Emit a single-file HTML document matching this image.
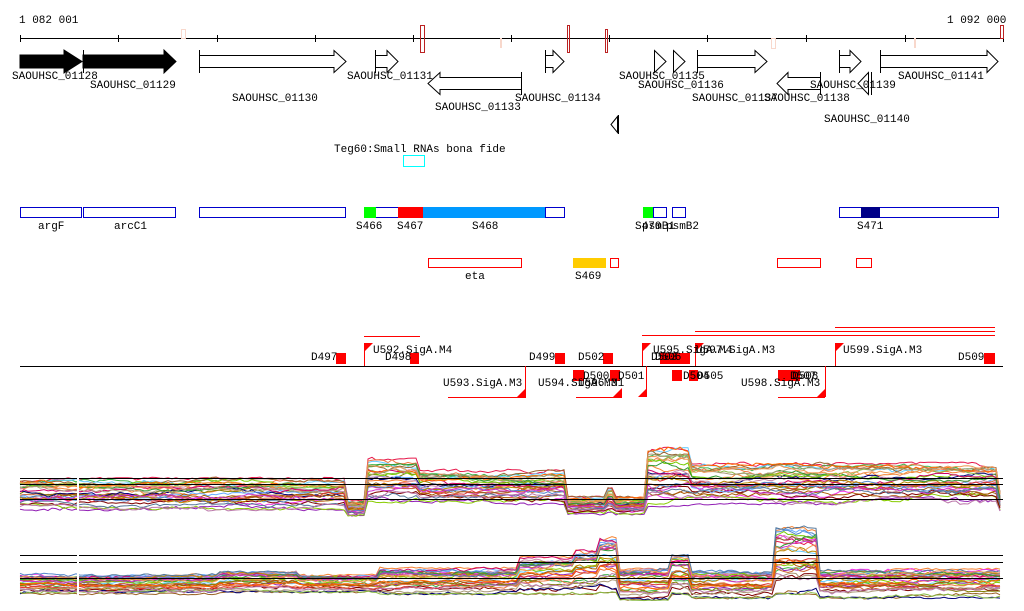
<!DOCTYPE html>
<html><head><meta charset="utf-8"><style>
html,body{margin:0;padding:0;background:#fff;width:1024px;height:611px;overflow:hidden}
svg text{font-family:"Liberation Mono","DejaVu Sans Mono",monospace;font-size:11px;fill:#000}
</style></head><body>
<svg id="s" width="1024" height="611" viewBox="0 0 1024 611" xmlns="http://www.w3.org/2000/svg">
<text x="19" y="23">1 082 001</text>
<text x="947" y="23">1 092 000</text>
<line x1="20" y1="38.5" x2="1003" y2="38.5" stroke="#000"/>
<g stroke="#000">
<line x1="20.5" y1="35" x2="20.5" y2="42"/><line x1="118.5" y1="35" x2="118.5" y2="42"/><line x1="217.5" y1="35" x2="217.5" y2="42"/><line x1="315.5" y1="35" x2="315.5" y2="42"/><line x1="413.5" y1="35" x2="413.5" y2="42"/><line x1="511.5" y1="35" x2="511.5" y2="42"/><line x1="609.5" y1="35" x2="609.5" y2="42"/><line x1="707.5" y1="35" x2="707.5" y2="42"/><line x1="806.5" y1="35" x2="806.5" y2="42"/><line x1="905.5" y1="35" x2="905.5" y2="42"/><line x1="1003.5" y1="35" x2="1003.5" y2="42"/>
</g>
<g fill="none">
<rect x="181.5" y="29.5" width="4" height="9" stroke="#f8d8cc"/>
<rect x="420.5" y="25.5" width="4" height="27" stroke="#b22"/>
<rect x="500" y="38" width="2" height="10" fill="#f8d8cc" stroke="none"/>
<rect x="567.5" y="25.5" width="2" height="27" stroke="#b22"/>
<rect x="605.5" y="29.5" width="2" height="23" stroke="#b22"/>
<rect x="771.5" y="38.5" width="4" height="10" stroke="#f8d8cc"/>
<rect x="914" y="38" width="2" height="10" fill="#f8d8cc" stroke="none"/>
<rect x="1000.5" y="25.5" width="3" height="13" stroke="#b22"/>
</g>
<g stroke="#000" fill="#fff">
<polygon points="20,55 64,55 64,50 82,61.5 64,73 64,68 20,68" fill="#000"/>
<polygon points="83,55 164,55 164,50 176,61.5 164,73 164,68 83,68" fill="#000"/>
<line x1="83.5" y1="50" x2="83.5" y2="73"/>
<polygon points="199.5,55.5 334,55.5 334,50.5 346,61.5 334,72.5 334,67.5 199.5,67.5"/><line x1="199.5" y1="50" x2="199.5" y2="73"/>
<polygon points="375.5,55.5 387,55.5 387,50.5 398,61.5 387,72.5 387,67.5 375.5,67.5"/><line x1="375.5" y1="50" x2="375.5" y2="73"/>
<polygon points="545.5,55.5 553,55.5 553,50.5 564,61.5 553,72.5 553,67.5 545.5,67.5"/><line x1="545.5" y1="50" x2="545.5" y2="73"/>
<polygon points="654.5,50.5 666,61.5 654.5,72.5"/>
<polygon points="673.5,50.5 685,61.5 673.5,72.5"/>
<polygon points="697.5,55.5 755,55.5 755,50.5 767,61.5 755,72.5 755,67.5 697.5,67.5"/><line x1="697.5" y1="50" x2="697.5" y2="73"/>
<polygon points="839.5,55.5 850,55.5 850,50.5 861,61.5 850,72.5 850,67.5 839.5,67.5"/><line x1="839.5" y1="50" x2="839.5" y2="73"/>
<polygon points="880.5,55.5 987,55.5 987,50.5 998,61.5 987,72.5 987,67.5 880.5,67.5"/><line x1="880.5" y1="50" x2="880.5" y2="73"/>
<polygon points="521.5,77.5 440,77.5 440,72.5 428,83.5 440,94.5 440,89.5 521.5,89.5"/><line x1="521.5" y1="72" x2="521.5" y2="95"/>
<polygon points="820.5,77.5 788,77.5 788,72.5 777,83.5 788,94.5 788,89.5 820.5,89.5"/><line x1="820.5" y1="72" x2="820.5" y2="95"/>
<polygon points="868.5,72.5 858,83.5 868.5,94.5"/><line x1="871.5" y1="72" x2="871.5" y2="95"/>
<polygon points="617.5,116.5 611,124.5 617.5,132.5"/><line x1="618.5" y1="115" x2="618.5" y2="134"/>
</g>
<text x="12" y="79">SAOUHSC_01128</text>
<text x="90" y="88">SAOUHSC_01129</text>
<text x="232" y="101">SAOUHSC_01130</text>
<text x="347" y="79">SAOUHSC_01131</text>
<text x="435" y="110">SAOUHSC_01133</text>
<text x="515" y="101">SAOUHSC_01134</text>
<text x="619" y="79">SAOUHSC_01135</text>
<text x="638" y="88">SAOUHSC_01136</text>
<text x="692" y="101">SAOUHSC_01137</text>
<text x="764" y="101">SAOUHSC_01138</text>
<text x="810" y="88">SAOUHSC_01139</text>
<text x="824" y="122">SAOUHSC_01140</text>
<text x="898" y="79">SAOUHSC_01141</text>
<text x="334" y="152">Teg60:Small RNAs bona fide</text>
<rect x="403.5" y="155.5" width="21" height="11" fill="none" stroke="#0ff"/>
<g stroke="#00c" fill="#fff">
<rect x="20.5" y="207.5" width="61" height="10"/>
<rect x="83.5" y="207.5" width="92" height="10"/>
<rect x="199.5" y="207.5" width="146" height="10"/>
<rect x="375.5" y="207.5" width="23" height="10"/>
<rect x="545.5" y="207.5" width="19" height="10"/>
<rect x="653.5" y="207.5" width="13" height="10"/>
<rect x="672.5" y="207.5" width="13" height="10"/>
<rect x="839.5" y="207.5" width="159" height="10"/>
</g>
<rect x="364" y="207" width="12" height="11" fill="#0f0"/>
<rect x="398" y="207" width="25" height="11" fill="#f00"/>
<rect x="423" y="207" width="122" height="11" fill="#09f"/>
<rect x="643" y="207" width="10" height="11" fill="#0f0"/>
<rect x="861" y="207" width="19" height="11" fill="#008"/>
<text x="38" y="229">argF</text>
<text x="114" y="229">arcC1</text>
<text x="356" y="229">S466</text>
<text x="397" y="229">S467</text>
<text x="472" y="229">S468</text>
<text x="635" y="229">S470</text>
<text x="642" y="229">psmB1</text>
<text x="666" y="229">psmB2</text>
<text x="857" y="229">S471</text>
<g stroke="#f00" fill="#fff">
<rect x="428.5" y="258.5" width="93" height="9"/>
<rect x="610.5" y="258.5" width="8" height="9"/>
<rect x="777.5" y="258.5" width="43" height="9"/>
<rect x="856.5" y="258.5" width="15" height="9"/>
</g>
<rect x="573" y="258" width="33" height="10" fill="#fc0"/>
<text x="465" y="279">eta</text>
<text x="575" y="279">S469</text>
<line x1="20" y1="366.5" x2="1003" y2="366.5" stroke="#000"/>
<g fill="#f00">
<rect x="364" y="336" width="56" height="1"/>
<rect x="642" y="335" width="353" height="1"/>
<rect x="695" y="331" width="300" height="1"/>
<rect x="835" y="327" width="160" height="1"/>
<rect x="448" y="397" width="78" height="1"/>
<rect x="576" y="397" width="46" height="1"/>
<rect x="778" y="397" width="47" height="1"/>
<rect x="364" y="343" width="1" height="23"/>
<rect x="642" y="343" width="1" height="23"/>
<rect x="695" y="343" width="1" height="23"/>
<rect x="835" y="343" width="1" height="23"/>
<rect x="525" y="366" width="1" height="30"/>
<rect x="646" y="366" width="1" height="30"/>
<rect x="825" y="366" width="1" height="30"/>
<polygon points="364,343 373,343 364,352"/>
<polygon points="642,343 651,343 642,352"/>
<polygon points="695,343 704,343 695,352"/>
<polygon points="835,343 844,343 835,352"/>
<polygon points="526,388 526,397 517,397"/>
<polygon points="622,388 622,397 613,397"/>
<polygon points="647,388 647,397 638,397"/>
<polygon points="826,388 826,397 817,397"/>
<rect x="336" y="353" width="10" height="11"/>
<rect x="410" y="353" width="9" height="11"/>
<rect x="555" y="353" width="10" height="11"/>
<rect x="603" y="353" width="10" height="11"/>
<rect x="660" y="353" width="30" height="11"/>
<rect x="984" y="353" width="11" height="11"/>
<rect x="573" y="370" width="11" height="11"/>
<rect x="610" y="370" width="10" height="11"/>
<rect x="672" y="370" width="10" height="11"/>
<rect x="689" y="370" width="9" height="11"/>
<rect x="778" y="370" width="22" height="11"/>
</g>
<text x="311" y="360">D497</text>
<text x="373" y="353">U592.SigA.M4</text>
<text x="385" y="360">D498</text>
<text x="529" y="360">D499</text>
<text x="578" y="360">D502</text>
<text x="583" y="379">D500</text>
<text x="618" y="379">D501</text>
<text x="443" y="386">U593.SigA.M3</text>
<text x="538" y="386">U594.SigA.M3</text>
<text x="578" y="386">U596.M1</text>
<text x="653" y="353">U595.SigA.M4</text>
<text x="696" y="353">U597.SigA.M3</text>
<text x="651" y="360">D503</text>
<text x="655" y="360">D506</text>
<text x="683" y="379">D504</text>
<text x="697" y="379">D505</text>
<text x="741" y="386">U598.SigA.M3</text>
<text x="790" y="379">D507</text>
<text x="792" y="379">D508</text>
<text x="843" y="353">U599.SigA.M3</text>
<text x="958" y="360">D509</text>
<g id="plots"></g>
<g stroke="#000">
<line x1="20" y1="478.5" x2="1003" y2="478.5"/>
<line x1="20" y1="484.5" x2="1003" y2="484.5"/>
<line x1="20" y1="499.5" x2="1003" y2="499.5"/>
<line x1="20" y1="555.5" x2="1003" y2="555.5"/>
<line x1="20" y1="562.5" x2="1003" y2="562.5"/>
<line x1="20" y1="578.5" x2="1003" y2="578.5"/>
</g>
<rect x="77" y="470" width="2" height="45" fill="#fff"/>
<rect x="77" y="550" width="2" height="48" fill="#fff"/>
</svg>
<script>
(function(){
var seed=12345;function rnd(){seed=(seed*16807)%2147483647;return seed/2147483647;}
var cols=["#e6194b","#3cb44b","#f58231","#911eb4","#6cf","#f032e6","#8c0","#c63","#9a6324","#800000","#808000","#000075","#6af","#c8a","#e74","#8b4","#d33","#a50","#7c0","#c06","#58c","#963","#b80","#f60","#393","#c3c","#579","#a97","#e95","#b7a"];
function seg(list,x){for(var i=0;i<list.length;i++){var s=list[i];if(x>=s[0]&&x<s[1])return s;}return list[list.length-1];}
var p1=[[20,345,478,510],[345,368,500,516],[368,420,458,504],[420,566,470,504],[566,605,497,514],[605,615,488,512],[615,645,497,514],[645,690,447,506],[690,1000,463,504],[1000,1004,490,514]];
var p2=[[20,220,574,594],[220,300,571,592],[300,380,575,592],[380,520,568,594],[520,575,557,594],[575,600,550,594],[600,618,537,592],[618,670,568,600],[670,690,554,594],[690,775,571,598],[775,820,525,594],[820,1004,569,598]];
var h="";
function tr(list,n){
 for(var k=0;k<n;k++){
  var r=Math.pow(rnd(),0.9),c=cols[k%cols.length],pts=[],d=0;
  for(var x=20;x<=1003;x+=4){
   var s=seg(list,x);d+= (rnd()-0.5)*0.08; if(d>0.15)d=0.15; if(d<-0.15)d=-0.15;
   var rr=Math.min(1,Math.max(0,r+d));
   var y=s[2]+rr*(s[3]-s[2])+(rnd()-0.5)*2;
   pts.push(x+","+y.toFixed(1));
  }
  h+='<polyline fill="none" stroke="'+c+'" stroke-width="1" points="'+pts.join(" ")+'"/>';
 }
}
tr(p1,30);tr(p2,30);
document.getElementById("plots").innerHTML=h;
})();
</script>
</body></html>
